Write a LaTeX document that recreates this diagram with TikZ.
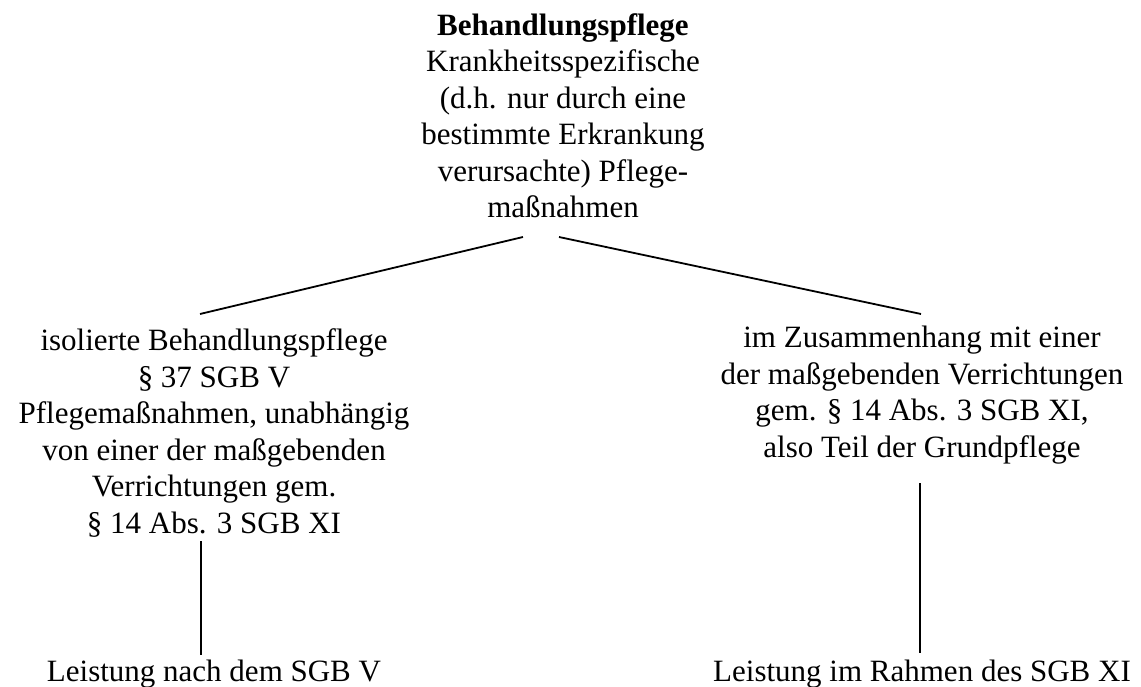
\documentclass[tikz,border=0pt]{standalone}
\usepackage{fontspec}
\setmainfont{Liberation Serif}
\begin{document}
\begin{tikzpicture}[x=1pt,y=-1pt,
  txt/.style={inner sep=0pt, align=center, anchor=base, font=\fontsize{31}{36.5}\selectfont},
  link/.style={line width=1.8pt, black}]
\useasboundingbox (0,0) rectangle (1141,687);
% anchor=base is the baseline of the last line
\node[txt] (top) at (563,218) {\textbf{Behandlungspflege}\\Krankheitsspezifische\\(d.h. nur durch eine\\bestimmte Erkrankung\\verursachte) Pflege-\\maßnahmen};
\node[txt] (left) at (214,533) {isolierte Behandlungspflege\\§ 37 SGB V\\Pflegemaßnahmen, unabhängig\\von einer der maßgebenden\\Verrichtungen gem.\\§ 14 Abs. 3 SGB XI};
\node[txt] (right) at (922,457) {im Zusammenhang mit einer\\der maßgebenden Verrichtungen\\gem. § 14 Abs. 3 SGB XI,\\also Teil der Grundpflege};
\node[txt] (lb) at (214,681) {Leistung nach dem SGB V};
\node[txt] (rb) at (922,681) {Leistung im Rahmen des SGB XI};
\coordinate (tl) at (523,237);
\coordinate (tr) at (559,237);
\coordinate (lt) at (200,314);
\coordinate (rt) at (921,314);
\coordinate (lv1) at (201,541);
\coordinate (lv2) at (201,655);
\coordinate (rv1) at (920,483);
\coordinate (rv2) at (920,653);
\draw[link] (tl) -- (lt);
\draw[link] (tr) -- (rt);
\draw[link] (lv1) -- (lv2);
\draw[link] (rv1) -- (rv2);
\end{tikzpicture}
\end{document}
